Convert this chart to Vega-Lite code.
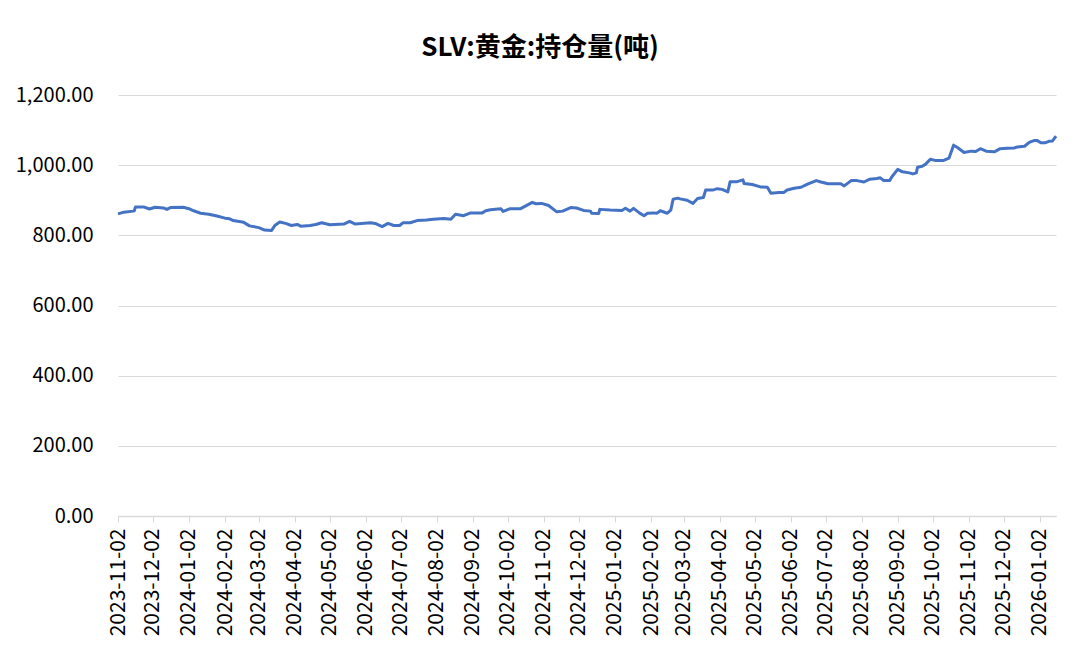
{
  "$schema": "https://vega.github.io/schema/vega-lite/v6.json",
  "width": 938,
  "height": 421,
  "autosize": "none",
  "padding": {"left": 118, "top": 95, "right": 24, "bottom": 134},
  "background": "white",
  "title": {
    "text": "SLV:黄金:持仓量(吨)",
    "font": "Noto Sans CJK SC",
    "fontSize": 26,
    "fontWeight": "bold",
    "color": "#000000",
    "anchor": "middle",
    "dx": -47,
    "offset": 24
  },
  "config": {
    "view": {"stroke": null},
    "axis": {"labelFont": "Noto Sans CJK SC", "labelColor": "#000000", "labelFontSize": 20}
  },
  "data": {
    "values": [
      {"date": "2023-11-02", "v": 861}, {"date": "2023-11-07", "v": 866}, {"date": "2023-11-15", "v": 869}, {"date": "2023-11-16", "v": 870},
      {"date": "2023-11-17", "v": 881}, {"date": "2023-11-24", "v": 881}, {"date": "2023-11-29", "v": 875}, {"date": "2023-12-04", "v": 880},
      {"date": "2023-12-11", "v": 878}, {"date": "2023-12-14", "v": 874}, {"date": "2023-12-17", "v": 879}, {"date": "2023-12-28", "v": 880},
      {"date": "2024-01-02", "v": 876}, {"date": "2024-01-06", "v": 870}, {"date": "2024-01-12", "v": 863}, {"date": "2024-01-19", "v": 860},
      {"date": "2024-01-26", "v": 855}, {"date": "2024-02-02", "v": 849}, {"date": "2024-02-06", "v": 847}, {"date": "2024-02-09", "v": 842},
      {"date": "2024-02-18", "v": 837}, {"date": "2024-02-23", "v": 827}, {"date": "2024-03-02", "v": 822}, {"date": "2024-03-07", "v": 815},
      {"date": "2024-03-13", "v": 814}, {"date": "2024-03-16", "v": 829}, {"date": "2024-03-20", "v": 838}, {"date": "2024-03-25", "v": 834},
      {"date": "2024-03-30", "v": 828}, {"date": "2024-04-04", "v": 831}, {"date": "2024-04-07", "v": 826}, {"date": "2024-04-15", "v": 828},
      {"date": "2024-04-20", "v": 831}, {"date": "2024-04-25", "v": 836}, {"date": "2024-05-02", "v": 830}, {"date": "2024-05-14", "v": 832},
      {"date": "2024-05-19", "v": 840}, {"date": "2024-05-24", "v": 832}, {"date": "2024-06-06", "v": 836}, {"date": "2024-06-10", "v": 834},
      {"date": "2024-06-16", "v": 825}, {"date": "2024-06-21", "v": 834}, {"date": "2024-06-26", "v": 828}, {"date": "2024-07-01", "v": 828},
      {"date": "2024-07-04", "v": 836}, {"date": "2024-07-10", "v": 836}, {"date": "2024-07-16", "v": 842}, {"date": "2024-07-24", "v": 844},
      {"date": "2024-07-30", "v": 846}, {"date": "2024-08-08", "v": 848}, {"date": "2024-08-14", "v": 846}, {"date": "2024-08-18", "v": 860},
      {"date": "2024-08-25", "v": 856}, {"date": "2024-08-31", "v": 864}, {"date": "2024-09-10", "v": 864}, {"date": "2024-09-13", "v": 870},
      {"date": "2024-09-17", "v": 873}, {"date": "2024-09-26", "v": 876}, {"date": "2024-09-28", "v": 868}, {"date": "2024-10-04", "v": 876},
      {"date": "2024-10-13", "v": 876}, {"date": "2024-10-23", "v": 894}, {"date": "2024-10-26", "v": 890}, {"date": "2024-10-31", "v": 891},
      {"date": "2024-11-06", "v": 885}, {"date": "2024-11-13", "v": 867}, {"date": "2024-11-18", "v": 869}, {"date": "2024-11-25", "v": 879},
      {"date": "2024-11-30", "v": 878}, {"date": "2024-12-06", "v": 871}, {"date": "2024-12-12", "v": 869}, {"date": "2024-12-13", "v": 863},
      {"date": "2024-12-19", "v": 862}, {"date": "2024-12-20", "v": 874}, {"date": "2024-12-29", "v": 872}, {"date": "2025-01-08", "v": 871},
      {"date": "2025-01-11", "v": 877}, {"date": "2025-01-15", "v": 869}, {"date": "2025-01-18", "v": 877}, {"date": "2025-01-23", "v": 864},
      {"date": "2025-01-27", "v": 856}, {"date": "2025-01-30", "v": 863}, {"date": "2025-02-04", "v": 864}, {"date": "2025-02-07", "v": 863},
      {"date": "2025-02-10", "v": 870}, {"date": "2025-02-16", "v": 863}, {"date": "2025-02-19", "v": 872}, {"date": "2025-02-21", "v": 903},
      {"date": "2025-02-25", "v": 906}, {"date": "2025-02-27", "v": 904}, {"date": "2025-03-05", "v": 900}, {"date": "2025-03-10", "v": 891},
      {"date": "2025-03-14", "v": 905}, {"date": "2025-03-19", "v": 908}, {"date": "2025-03-21", "v": 929}, {"date": "2025-03-27", "v": 929},
      {"date": "2025-03-31", "v": 933}, {"date": "2025-04-04", "v": 931}, {"date": "2025-04-09", "v": 924}, {"date": "2025-04-11", "v": 953},
      {"date": "2025-04-17", "v": 953}, {"date": "2025-04-22", "v": 958}, {"date": "2025-04-23", "v": 948}, {"date": "2025-04-30", "v": 945},
      {"date": "2025-05-07", "v": 938}, {"date": "2025-05-13", "v": 937}, {"date": "2025-05-16", "v": 920}, {"date": "2025-05-23", "v": 922},
      {"date": "2025-05-27", "v": 922}, {"date": "2025-05-30", "v": 929}, {"date": "2025-06-05", "v": 934}, {"date": "2025-06-11", "v": 937},
      {"date": "2025-06-16", "v": 945}, {"date": "2025-06-24", "v": 956}, {"date": "2025-06-28", "v": 952}, {"date": "2025-07-04", "v": 947},
      {"date": "2025-07-15", "v": 947}, {"date": "2025-07-18", "v": 941}, {"date": "2025-07-24", "v": 956}, {"date": "2025-07-29", "v": 956},
      {"date": "2025-08-04", "v": 952}, {"date": "2025-08-09", "v": 960}, {"date": "2025-08-15", "v": 962}, {"date": "2025-08-18", "v": 964},
      {"date": "2025-08-21", "v": 956}, {"date": "2025-08-26", "v": 956}, {"date": "2025-08-28", "v": 967}, {"date": "2025-09-02", "v": 988},
      {"date": "2025-09-06", "v": 981}, {"date": "2025-09-12", "v": 978}, {"date": "2025-09-15", "v": 975}, {"date": "2025-09-18", "v": 978},
      {"date": "2025-09-19", "v": 994}, {"date": "2025-09-23", "v": 997}, {"date": "2025-09-26", "v": 1003}, {"date": "2025-09-30", "v": 1017},
      {"date": "2025-10-05", "v": 1013}, {"date": "2025-10-11", "v": 1013}, {"date": "2025-10-16", "v": 1020}, {"date": "2025-10-20", "v": 1057},
      {"date": "2025-10-23", "v": 1051}, {"date": "2025-10-29", "v": 1036}, {"date": "2025-11-04", "v": 1040}, {"date": "2025-11-08", "v": 1039},
      {"date": "2025-11-12", "v": 1047}, {"date": "2025-11-17", "v": 1040}, {"date": "2025-11-24", "v": 1038}, {"date": "2025-11-29", "v": 1047},
      {"date": "2025-12-05", "v": 1048}, {"date": "2025-12-11", "v": 1049}, {"date": "2025-12-14", "v": 1052}, {"date": "2025-12-20", "v": 1054},
      {"date": "2025-12-24", "v": 1065}, {"date": "2025-12-28", "v": 1070}, {"date": "2025-12-31", "v": 1070}, {"date": "2026-01-03", "v": 1064},
      {"date": "2026-01-07", "v": 1064}, {"date": "2026-01-10", "v": 1068}, {"date": "2026-01-13", "v": 1069}, {"date": "2026-01-16", "v": 1083}
    ]
  },
  "mark": {"type": "line", "color": "#4472C4", "strokeWidth": 3, "strokeJoin": "round"},
  "encoding": {
    "x": {
      "field": "date",
      "type": "temporal",
      "scale": {
        "type": "utc",
        "domain": [
          {"year": 2023, "month": 11, "date": 2, "utc": true},
          {"year": 2026, "month": 1, "date": 16, "utc": true}
        ]
      },
      "axis": {
        "title": null,
        "format": "%Y-%m-%d",
        "labelAngle": -90,
        "labelFontSize": 21,
        "labelPadding": 6,
        "tickSize": 6,
        "tickColor": "#d9d9d9",
        "domainColor": "#d9d9d9",
        "domainWidth": 1.5,
        "grid": false,
        "labelOverlap": false,
        "labelFlush": false,
        "values": [
          {"year": 2023, "month": 11, "date": 2, "utc": true},
          {"year": 2023, "month": 12, "date": 2, "utc": true},
          {"year": 2024, "month": 1, "date": 2, "utc": true},
          {"year": 2024, "month": 2, "date": 2, "utc": true},
          {"year": 2024, "month": 3, "date": 2, "utc": true},
          {"year": 2024, "month": 4, "date": 2, "utc": true},
          {"year": 2024, "month": 5, "date": 2, "utc": true},
          {"year": 2024, "month": 6, "date": 2, "utc": true},
          {"year": 2024, "month": 7, "date": 2, "utc": true},
          {"year": 2024, "month": 8, "date": 2, "utc": true},
          {"year": 2024, "month": 9, "date": 2, "utc": true},
          {"year": 2024, "month": 10, "date": 2, "utc": true},
          {"year": 2024, "month": 11, "date": 2, "utc": true},
          {"year": 2024, "month": 12, "date": 2, "utc": true},
          {"year": 2025, "month": 1, "date": 2, "utc": true},
          {"year": 2025, "month": 2, "date": 2, "utc": true},
          {"year": 2025, "month": 3, "date": 2, "utc": true},
          {"year": 2025, "month": 4, "date": 2, "utc": true},
          {"year": 2025, "month": 5, "date": 2, "utc": true},
          {"year": 2025, "month": 6, "date": 2, "utc": true},
          {"year": 2025, "month": 7, "date": 2, "utc": true},
          {"year": 2025, "month": 8, "date": 2, "utc": true},
          {"year": 2025, "month": 9, "date": 2, "utc": true},
          {"year": 2025, "month": 10, "date": 2, "utc": true},
          {"year": 2025, "month": 11, "date": 2, "utc": true},
          {"year": 2025, "month": 12, "date": 2, "utc": true},
          {"year": 2026, "month": 1, "date": 2, "utc": true}
        ]
      }
    },
    "y": {
      "field": "v",
      "type": "quantitative",
      "scale": {"domain": [0, 1200], "nice": false},
      "axis": {
        "title": null,
        "values": [0, 200, 400, 600, 800, 1000, 1200],
        "format": ",.2f",
        "domain": false,
        "ticks": false,
        "labelPadding": 25,
        "gridColor": "#d9d9d9",
        "gridWidth": 1
      }
    }
  }
}
